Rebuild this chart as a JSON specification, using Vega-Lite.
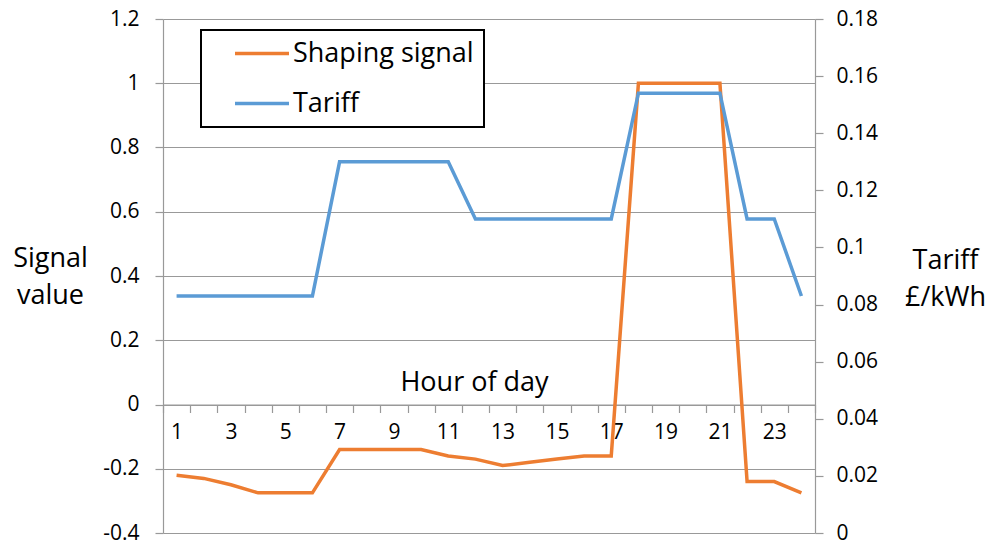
{
  "$schema": "https://vega.github.io/schema/vega-lite/v6.json",
  "width": 652,
  "height": 514,
  "autosize": {"type": "none"},
  "padding": {"left": 163, "top": 19, "right": 175, "bottom": 13},
  "background": "white",
  "config": {
    "font": "Open Sans",
    "view": {"stroke": null},
    "legend": {"strokeWidth": 2},
    "axis": {
      "labelFontSize": 21,
      "labelColor": "#000000",
      "titleFontSize": 27,
      "titleFontWeight": "normal",
      "titleColor": "#000000",
      "domainColor": "#999999",
      "tickColor": "#999999",
      "gridColor": "#999999",
      "domainWidth": 1.2,
      "tickWidth": 1.2,
      "gridWidth": 1.2,
      "tickSize": 8
    }
  },
  "data": {
    "values": [
      {"hour": 1, "signal": -0.22, "tariff": 0.083},
      {"hour": 2, "signal": -0.23, "tariff": 0.083},
      {"hour": 3, "signal": -0.25, "tariff": 0.083},
      {"hour": 4, "signal": -0.275, "tariff": 0.083},
      {"hour": 5, "signal": -0.275, "tariff": 0.083},
      {"hour": 6, "signal": -0.275, "tariff": 0.083},
      {"hour": 7, "signal": -0.14, "tariff": 0.13},
      {"hour": 8, "signal": -0.14, "tariff": 0.13},
      {"hour": 9, "signal": -0.14, "tariff": 0.13},
      {"hour": 10, "signal": -0.14, "tariff": 0.13},
      {"hour": 11, "signal": -0.16, "tariff": 0.13},
      {"hour": 12, "signal": -0.17, "tariff": 0.11},
      {"hour": 13, "signal": -0.19, "tariff": 0.11},
      {"hour": 14, "signal": -0.18, "tariff": 0.11},
      {"hour": 15, "signal": -0.17, "tariff": 0.11},
      {"hour": 16, "signal": -0.16, "tariff": 0.11},
      {"hour": 17, "signal": -0.16, "tariff": 0.11},
      {"hour": 18, "signal": 1.0, "tariff": 0.154},
      {"hour": 19, "signal": 1.0, "tariff": 0.154},
      {"hour": 20, "signal": 1.0, "tariff": 0.154},
      {"hour": 21, "signal": 1.0, "tariff": 0.154},
      {"hour": 22, "signal": -0.24, "tariff": 0.11},
      {"hour": 23, "signal": -0.24, "tariff": 0.11},
      {"hour": 24, "signal": -0.275, "tariff": 0.083}
    ]
  },
  "encoding": {
    "x": {
      "field": "hour",
      "type": "ordinal",
      "scale": {"type": "band", "paddingInner": 0, "paddingOuter": 0},
      "axis": {
        "title": "Hour of day",
        "orient": "bottom",
        "offset": -128.5,
        "tickBand": "extent",
        "labelAngle": 0,
        "labelPadding": 9,
        "labelExpr": "datum.value % 2 == 1 ? datum.label : ''",
        "titleX": 311,
        "titleY": -14,
        "titleAlign": "center",
        "titleBaseline": "alphabetic",
        "grid": false
      }
    }
  },
  "layer": [
    {
      "mark": {"type": "line", "strokeWidth": 3.5},
      "encoding": {
        "y": {
          "field": "signal",
          "type": "quantitative",
          "scale": {"domain": [-0.4, 1.2], "nice": false, "zero": false},
          "axis": {
            "orient": "left",
            "title": ["Signal", "value"],
            "titleAngle": 0,
            "titleX": -113,
            "titleY": 247,
            "titleAlign": "center",
            "titleBaseline": "alphabetic",
            "titleLineHeight": 37,
            "values": [-0.4, -0.2, 0, 0.2, 0.4, 0.6, 0.8, 1, 1.2],
            "labelExpr": "datum.value < 0 ? '-' + format(-datum.value, '~g') : format(datum.value, '~g')",
            "labelPadding": 16,
            "grid": true
          }
        },
        "color": {
          "datum": "Shaping signal",
          "type": "nominal",
          "scale": {"domain": ["Shaping signal", "Tariff"], "range": ["#ED7D31", "#5B9BD5"]},
          "legend": {
            "title": null,
            "orient": "none",
            "legendX": 38,
            "legendY": 11,
            "strokeColor": "#000000",
            "fillColor": "#ffffff",
            "padding": 10,
            "symbolType": "stroke",
            "symbolSize": 2916,
            "symbolStrokeWidth": 3.5,
            "symbolOffset": 22,
            "clipHeight": 27,
            "rowPadding": 22,
            "labelOffset": 2,
            "labelFontSize": 27,
            "labelColor": "#000000",
            "labelLimit": 400,
            "labelExpr": "datum.label + '\u00a0\u00a0\u00a0'"
          }
        }
      }
    },
    {
      "mark": {"type": "line", "strokeWidth": 3.5},
      "encoding": {
        "y": {
          "field": "tariff",
          "type": "quantitative",
          "scale": {"domain": [0, 0.18], "nice": false, "zero": false},
          "axis": {
            "orient": "right",
            "title": ["Tariff", "£/kWh"],
            "titleAngle": 0,
            "titleX": 130,
            "titleY": 249,
            "titleAlign": "center",
            "titleBaseline": "alphabetic",
            "titleLineHeight": 37,
            "values": [0, 0.02, 0.04, 0.06, 0.08, 0.1, 0.12, 0.14, 0.16, 0.18],
            "format": "~g",
            "labelPadding": 13,
            "grid": false
          }
        },
        "color": {"datum": "Tariff", "type": "nominal"}
      }
    }
  ],
  "resolve": {"scale": {"y": "independent"}}
}
